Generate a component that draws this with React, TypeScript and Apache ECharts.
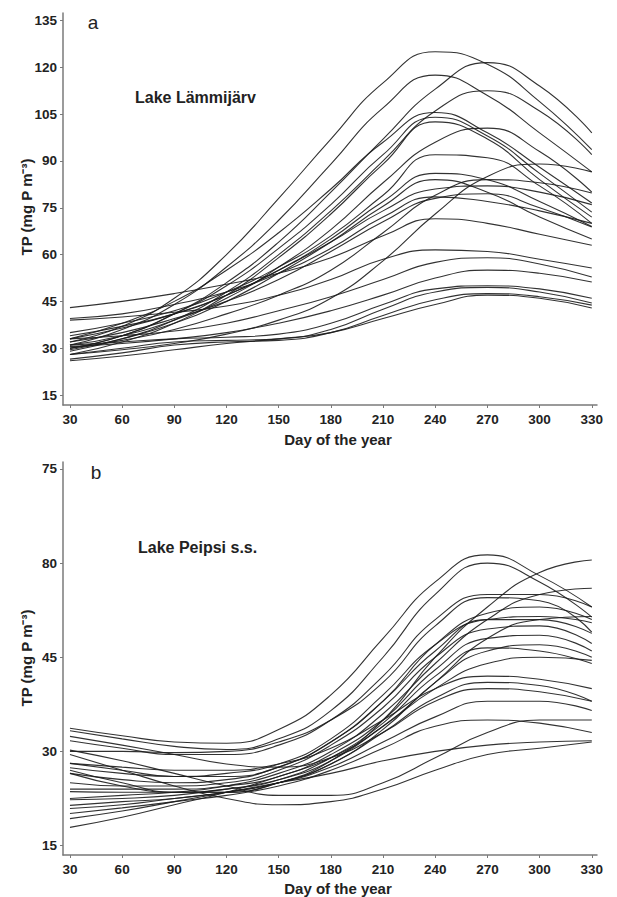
import React, { useEffect, useRef } from "react";
import * as echarts from "echarts";

// Day-of-year sampling points for every curve
const days = [30, 60, 90, 120, 150, 180, 210, 240, 270, 300, 330];

// Tick labels
const xTicks = [30, 60, 90, 120, 150, 180, 210, 240, 270, 300, 330];
const yTicksA = [15, 30, 45, 60, 75, 90, 105, 120, 135];
const yTicksB = [15, 30, 45, 60, 75];
const yLabelsB = ["15", "30", "45", "80", "75"];

// Panel a: Lake Lämmijärv, TP (mg P m-3) per curve at the days above
const lammijarv: number[][] = [
  [32, 37, 46, 60, 78, 97, 115, 125, 121, 109, 93.6],
  [30, 34, 41, 51, 64, 80, 97, 113, 121.5, 114, 99],
  [31, 36, 44, 56, 71, 89, 107, 117.5, 111, 99, 86.5],
  [29, 33, 39, 48, 60, 74, 90, 106, 112.5, 106, 92],
  [33, 38, 45, 55, 67, 81, 96, 105.5, 99, 88, 76.5],
  [30, 34, 41, 50, 62, 76, 92, 104, 98, 86, 73.6],
  [28, 32, 38, 47, 59, 73, 89, 102.5, 97, 84, 72],
  [31, 34, 39, 46, 56, 68, 83, 96, 100.5, 93, 80],
  [35, 38, 42, 48, 56, 66, 79, 92, 91, 82, 70],
  [28, 29.5, 31.5, 34.5, 39, 46, 58, 73, 85, 89, 86.5],
  [30, 32.5, 36, 41, 47, 55, 67, 79, 84, 83, 79.7],
  [33, 36.5, 41, 47, 55, 65, 77, 86, 84, 77, 69],
  [29.5, 33, 38, 45, 54, 64, 75.5, 84, 80, 72, 65],
  [34, 37, 41, 47, 55, 64, 74, 81, 82, 80, 76],
  [32, 35, 39.5, 45, 52, 61, 70.5, 78, 79.5, 75, 68.8],
  [43, 45, 47.5, 50.5, 54, 59, 66, 71.5, 70, 66.5, 63],
  [39.5, 41, 44, 48, 54, 62, 72, 78.5, 77, 74, 70],
  [39, 40, 41.5, 43.5, 47, 52, 58.5, 61.5, 61, 58.5, 55.7],
  [33, 34, 35.5, 38, 42, 46.5, 52, 57.5, 59, 57, 52.8],
  [30.5, 31.5, 33, 35, 38, 42, 47, 52.5, 55, 54, 51.2],
  [31, 32, 33, 33.5, 34.5, 38, 44, 49, 50, 49, 46],
  [28, 30, 32, 32.5, 33, 36, 42.5, 48, 49.5, 48, 44.5],
  [26.5, 28.5, 31, 32, 32.5, 35, 40.5, 45.5, 47.5, 46.5, 43.8],
  [26, 27.5, 29.5, 31.5, 33, 35, 39.5, 44, 47, 46, 42.9],
];

// Panel b: Lake Peipsi s.s.
const peipsi: number[][] = [
  [33.7, 32.5, 31.5, 31.3, 33.5, 39, 48, 57, 61.3, 58, 53],
  [33.3, 32, 30.8, 30.3, 32, 36.5, 45, 55, 60, 57, 51.4],
  [27, 25, 23.5, 23.5, 25, 28.5, 35, 45, 53, 58.5, 60.5],
  [22.5, 23, 23.5, 24.5, 26.5, 30, 36, 44, 51, 55, 56],
  [31.7, 30.5, 29.5, 29.5, 31, 35, 42, 51, 55, 55, 53],
  [30, 30, 29.8, 30, 31.5, 35, 41, 50, 54.5, 54, 49],
  [28.1, 27, 26, 26, 27.5, 31.5, 38, 47, 52, 53, 51],
  [27.4, 26.5, 26, 26.5, 28, 32, 39, 47, 51, 51.5, 50.5],
  [26.5, 25.5, 25, 25.5, 27.5, 31.5, 38, 46, 51, 51, 48.8],
  [25, 24.5, 24.5, 25, 27, 31, 37, 45, 49.5, 50, 47.2],
  [24, 24, 24, 24.5, 26, 29.5, 35, 43, 48, 48.5, 46],
  [23.6, 23.5, 23.5, 24, 25.5, 29, 34.5, 42, 46.5, 46, 44],
  [22.3, 22.5, 23, 24, 25.5, 28.5, 34, 40, 44, 45, 44.5],
  [21.4, 22, 22.5, 23.5, 25, 28, 33, 38.5, 41, 40.5, 38],
  [20.9, 21.5, 22.5, 23.5, 25, 27.5, 31.5, 35.5, 38, 38, 36.5],
  [20.1, 21, 22, 23, 24.5, 27, 30.5, 34, 35, 34.5, 33],
  [19.3, 20.5, 22, 23.5, 25, 26.5, 28.5, 30, 31, 31.5, 31.7],
  [17.9, 19.5, 21.5, 23.5, 26, 29, 34, 41, 48, 51, 51.5],
  [29.5, 27, 24.5, 22.5, 21.5, 22, 24, 27, 29.5, 30.5, 31.5],
  [30.2, 28.5, 26.5, 24.5, 23, 23, 25, 29, 33, 35, 35],
  [32.4, 31, 29.5, 28, 27.5, 29, 33, 38, 40, 39.5, 38],
  [28.1, 27.5, 27, 27, 28, 30.5, 35, 40, 42, 41.5, 40],
  [26.5, 24.5, 23.5, 23.5, 25, 28, 33.5, 41, 46, 47, 45],
];

const FONT = "'Liberation Sans', Arial, Helvetica, sans-serif";
const AXIS_GRAY = "#7a7a7a";
const TEXT = "#222";

function makeXAxis(gridIndex: number) {
  return {
    gridIndex,
    type: "value",
    min: 26,
    max: 333,
    axisLine: { show: true, onZero: false, lineStyle: { color: AXIS_GRAY, width: 1.5 } },
    axisTick: { show: true, length: 3, customValues: xTicks, lineStyle: { color: AXIS_GRAY } },
    axisLabel: {
      customValues: xTicks,
      fontSize: 13.5,
      fontWeight: "bold",
      fontFamily: FONT,
      color: TEXT,
      margin: 7,
    },
    splitLine: { show: false },
  };
}

function makeYAxis(gridIndex: number, min: number, max: number, ticks: number[], labels?: string[]) {
  return {
    gridIndex,
    type: "value",
    min,
    max,
    axisLine: { show: true, onZero: false, lineStyle: { color: AXIS_GRAY, width: 1.5 } },
    axisTick: { show: true, length: 3, customValues: ticks, lineStyle: { color: AXIS_GRAY } },
    axisLabel: {
      customValues: ticks,
      fontSize: 13.5,
      fontWeight: "bold",
      fontFamily: FONT,
      color: TEXT,
      margin: 6,
      formatter: (v: number) => {
        if (!labels) return String(v);
        const i = ticks.indexOf(v);
        return i >= 0 ? labels[i] : "";
      },
    },
    splitLine: { show: false },
  };
}

function curveSeries(curves: number[][], axisIndex: number) {
  return curves.map((vals, k) => ({
    name: (axisIndex === 0 ? "a" : "b") + (k + 1),
    type: "line",
    xAxisIndex: axisIndex,
    yAxisIndex: axisIndex,
    data: vals.map((v, i) => [days[i], v]),
    smooth: true,
    symbol: "none",
    silent: true,
    lineStyle: { color: "#1c1c1c", width: 1.1, opacity: 0.9 },
  }));
}

function txt(x: number, y: number, text: string, size: number, weight: string, extra: any = {}) {
  return {
    type: "text",
    x,
    y,
    ...extra,
    style: {
      text,
      fontSize: size,
      fontWeight: weight,
      fontFamily: FONT,
      fill: TEXT,
      align: extra.align || "left",
      verticalAlign: "middle",
    },
  };
}

export default function App() {
  const ref = useRef<HTMLDivElement>(null);
  useEffect(() => {
    if (!ref.current) return;
    const chart = echarts.init(ref.current, undefined, { renderer: "svg" });
    chart.setOption({
      animation: false,
      backgroundColor: "#ffffff",
      grid: [
        { left: 63, top: 13, width: 534, height: 392 },
        { left: 63, top: 462, width: 534, height: 393 },
      ],
      xAxis: [makeXAxis(0), makeXAxis(1)],
      yAxis: [
        makeYAxis(0, 11.8, 137.4, yTicksA),
        makeYAxis(1, 13.5, 76.1, yTicksB, yLabelsB),
      ],
      series: [...curveSeries(lammijarv, 0), ...curveSeries(peipsi, 1)],
      graphic: [
        {
          type: "text",
          x: 93,
          y: 22,
          style: { text: "a", fontSize: 19, fontFamily: FONT, fill: TEXT, align: "center", verticalAlign: "middle" },
        },
        {
          type: "text",
          x: 96,
          y: 472,
          style: { text: "b", fontSize: 19, fontFamily: FONT, fill: TEXT, align: "center", verticalAlign: "middle" },
        },
        txt(135, 97, "Lake Lämmijärv", 16, "bold"),
        txt(138, 547, "Lake Peipsi s.s.", 16, "bold"),
        txt(338, 439, "Day of the year", 15, "bold", { align: "center" }),
        txt(338, 888, "Day of the year", 15, "bold", { align: "center" }),
        {
          type: "text",
          x: 26,
          y: 207,
          rotation: Math.PI / 2,
          style: {
            text: "TP (mg P m\u207B\u00B3)",
            fontSize: 15,
            fontWeight: "bold",
            fontFamily: FONT,
            fill: TEXT,
            align: "center",
            verticalAlign: "middle",
          },
        },
        {
          type: "text",
          x: 26,
          y: 658,
          rotation: Math.PI / 2,
          style: {
            text: "TP (mg P m\u207B\u00B3)",
            fontSize: 15,
            fontWeight: "bold",
            fontFamily: FONT,
            fill: TEXT,
            align: "center",
            verticalAlign: "middle",
          },
        },
      ],
    });
    return () => chart.dispose();
  }, []);
  return (
    <div
      ref={ref}
      style={{ position: "absolute", left: 0, top: 0, width: 617, height: 897, background: "#fff" }}
    />
  );
}
